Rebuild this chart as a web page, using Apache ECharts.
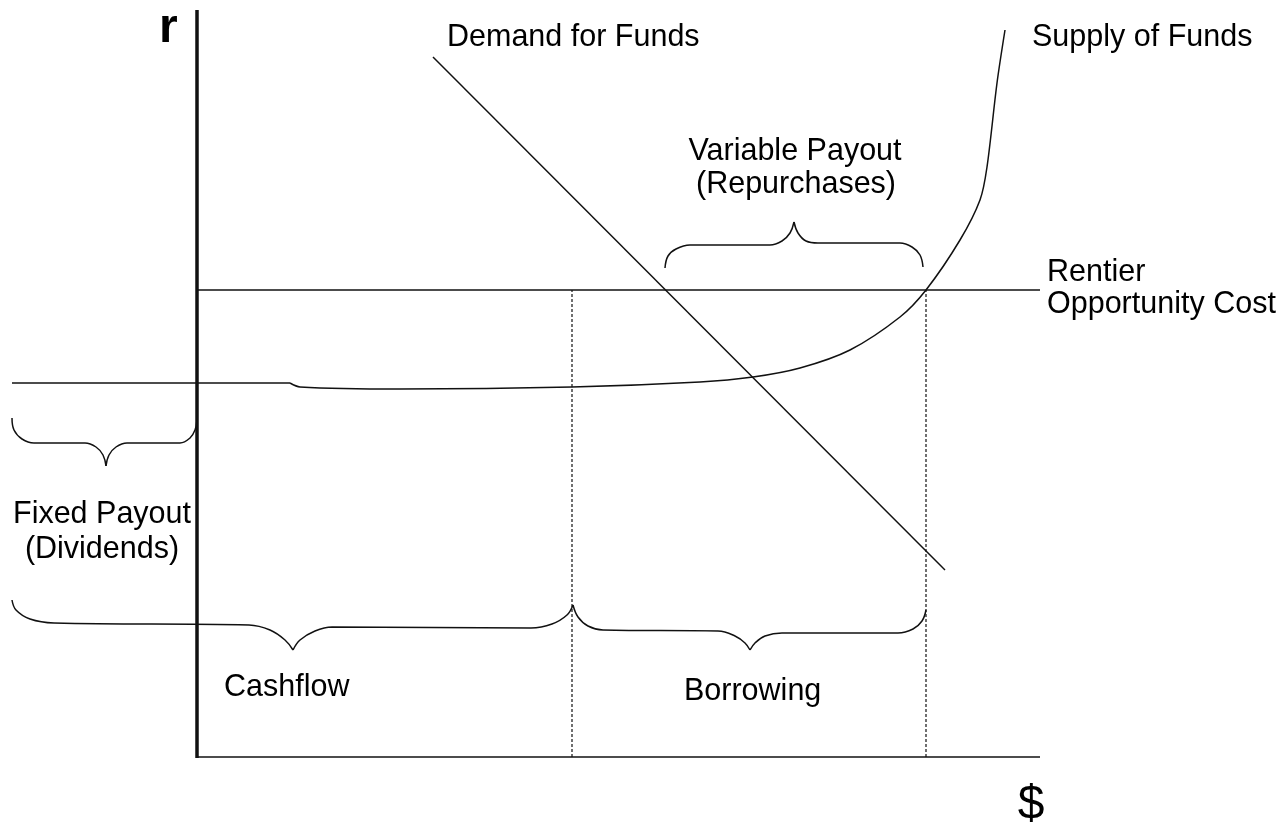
<!DOCTYPE html>
<html>
<head>
<meta charset="utf-8">
<title>Demand and Supply of Funds</title>
<script src="https://cdn.jsdelivr.net/npm/echarts/dist/echarts.min.js"></script>
<style>
  html, body { margin: 0; padding: 0; background: #fff; }
  #chartDiv { width: 1285px; height: 830px; }
</style>
</head>
<body>
<div id="chartDiv"></div>
<script>
// data in chart units: x = $, y = r, origin where the two axes cross
var axisR = [[0, -1], [0, 747]];
var axisDollar = [[0, 0], [843, 0]];
var demandFunds = [[236, 700], [748, 187]];
var rentierCost = [[0, 467], [843, 467]];
var supplyFlat = [[-185, 374], [93, 374]];
var supplyFunds = [[93, 374], [103, 370], [203, 368], [375, 370], [503, 375], [556, 380],
  [603, 389], [653, 407], [703, 440], [729, 467], [763, 517], [783, 557], [790, 590], [800, 674], [808, 727]];
var cashflowEnd = [[375, 0], [375, 467]];
var borrowingEnd = [[729, 0], [729, 467]];

// braces, each split in two halves at the cusp
var braceVariableL = [[468, 489], [471, 501], [479, 508], [493, 512], [573, 512], [585, 516], [593, 524], [597, 535]];
var braceVariableR = [[597, 535], [601, 524], [609, 516], [621, 514], [703, 514], [715, 510], [723, 502], [726, 490]];
var braceFixedL = [[-185, 339], [-183, 327], [-175, 318], [-163, 314], [-112, 314], [-101, 310], [-94, 302], [-91, 291]];
var braceFixedR = [[-91, 291], [-88, 302], [-81, 310], [-70, 314], [-17, 314], [-7, 319], [-2, 327], [0, 337]];
var braceCashL = [[-185, 157], [-181, 147], [-167, 138], [-143, 134], [52, 132], [73, 127], [88, 117], [96, 107]];
var braceCashR = [[96, 107], [103, 117], [118, 126], [135, 130], [334, 129], [355, 133], [370, 142], [376, 152]];
var braceBorrowL = [[376, 152], [381, 140], [391, 131], [406, 127], [521, 126], [538, 121], [548, 114], [553, 107]];
var braceBorrowR = [[553, 107], [558, 114], [568, 121], [585, 124], [701, 124], [716, 128], [725, 136], [729, 147]];

var ink = '#111';
var font = '30.5px "Liberation Sans", Arial, sans-serif';

function lineSeries(data, width, type, smooth) {
  return {
    type: 'line',
    data: data,
    showSymbol: false,
    silent: true,
    smooth: smooth || false,
    lineStyle: { color: ink, width: width, type: type || 'solid' }
  };
}

function label(text, x, y, align, f) {
  return {
    type: 'text',
    x: x,
    y: y,
    silent: true,
    style: { text: text, font: f || font, fill: '#000', align: align || 'left', verticalAlign: 'middle' }
  };
}

var chartDiv = echarts.init(document.getElementById('chartDiv'));
var option = {
  animation: false,
  backgroundColor: '#fff',
  grid: { left: 0, right: 0, top: 0, bottom: 0 },
  xAxis: { type: 'value', min: -197, max: 1088, show: false },
  yAxis: { type: 'value', min: -73, max: 757, show: false },
  series: [
    lineSeries(axisR, 3.5),
    lineSeries(axisDollar, 1.5),
    lineSeries(rentierCost, 1.3),
    lineSeries(demandFunds, 1.5),
    lineSeries(supplyFlat, 1.5),
    lineSeries(supplyFunds, 1.5, 'solid', 0.3),
    lineSeries(cashflowEnd, 1.2, [3, 2]),
    lineSeries(borrowingEnd, 1.2, [3, 2]),
    lineSeries(braceVariableL, 1.5, 'solid', 0.4),
    lineSeries(braceVariableR, 1.5, 'solid', 0.4),
    lineSeries(braceFixedL, 1.5, 'solid', 0.4),
    lineSeries(braceFixedR, 1.5, 'solid', 0.4),
    lineSeries(braceCashL, 1.5, 'solid', 0.4),
    lineSeries(braceCashR, 1.5, 'solid', 0.4),
    lineSeries(braceBorrowL, 1.5, 'solid', 0.4),
    lineSeries(braceBorrowR, 1.5, 'solid', 0.4)
  ],
  graphic: [
    label('r', 159, 29, 'left', 'bold 48px "Liberation Sans", Arial, sans-serif'),
    label('$', 1031, 806, 'center', '48px "Liberation Sans", Arial, sans-serif'),
    label('Demand for Funds', 447, 38),
    label('Supply of Funds', 1032, 38),
    label('Variable Payout', 795, 152, 'center'),
    label('(Repurchases)', 796, 185, 'center'),
    label('Rentier', 1047, 273),
    label('Opportunity Cost', 1047, 305),
    label('Fixed Payout', 102, 515, 'center'),
    label('(Dividends)', 102, 550, 'center'),
    label('Cashflow', 224, 688),
    label('Borrowing', 684, 692)
  ]
};
chartDiv.setOption(option);
</script>
</body>
</html>
